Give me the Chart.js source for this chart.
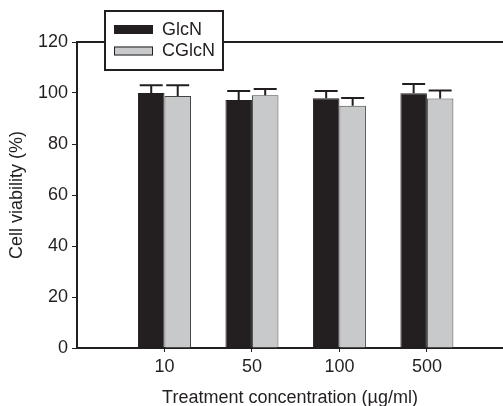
<!DOCTYPE html>
<html lang="en">
<head>
    <meta charset="UTF-8">
    <title>Cell viability</title>
    <script src="https://cdn.jsdelivr.net/npm/chart.js"></script>
    <style>
        body { margin: 0; background: #fff; }
    </style>
</head>
<body>
    <canvas id="viabilityChart" width="503" height="406"></canvas>
    <script>
        // values
        const categories = ['10', '50', '100', '500'];
        const glcn = [100, 97.3, 97.9, 99.9];
        const glcnErr = [3.0, 3.5, 2.9, 3.6];
        const cglcn = [98.8, 99.1, 95.0, 97.8];
        const cglcnErr = [4.2, 2.5, 3.0, 3.2];
        const yTicks = [0, 20, 40, 60, 80, 100, 120];

        const ink = '#231f20';
        const FONT = "'Liberation Sans', Arial, sans-serif";

        function toPoints(values) {
            return values.map((v, i) => ({ x: i + 1, y: v }));
        }

        // error bars (upper half only, like the original)
        const errorBars = {
            id: 'errorBars',
            afterDatasetsDraw(chart) {
                const ctx = chart.ctx;
                const y = chart.scales.y;
                chart.data.datasets.forEach((ds, d) => {
                    const meta = chart.getDatasetMeta(d);
                    meta.data.forEach((bar, i) => {
                        const top = y.getPixelForValue(ds.data[i].y + ds.errors[i]);
                        ctx.save();
                        ctx.strokeStyle = ink;
                        ctx.lineWidth = 2;
                        ctx.beginPath();
                        ctx.moveTo(bar.x, bar.y);
                        ctx.lineTo(bar.x, top);
                        ctx.moveTo(bar.x - 11.5, top);
                        ctx.lineTo(bar.x + 11.5, top);
                        ctx.stroke();
                        ctx.restore();
                    });
                });
            }
        };

        // top frame line and the boxed legend
        const frame = {
            id: 'frame',
            afterDraw(chart) {
                const ctx = chart.ctx;
                const a = chart.chartArea;
                ctx.save();
                ctx.strokeStyle = ink;
                ctx.lineWidth = 2;
                ctx.beginPath();
                ctx.moveTo(a.left - 1, a.top);
                ctx.lineTo(a.right, a.top);
                ctx.stroke();

                // legend box
                ctx.fillStyle = '#fff';
                ctx.fillRect(105, 11, 118, 59);
                ctx.strokeRect(105, 11, 118, 59);
                ctx.font = '18px ' + FONT;
                ctx.textBaseline = 'middle';
                chart.data.datasets.forEach((ds, d) => {
                    const yy = 25 + d * 21.5;
                    ctx.fillStyle = ds.backgroundColor;
                    ctx.fillRect(114, yy, 39, 9);
                    ctx.lineWidth = 1;
                    ctx.strokeStyle = ink;
                    ctx.strokeRect(114.5, yy + 0.5, 38, 8);
                    ctx.fillStyle = ink;
                    ctx.fillText(ds.label, 162, yy + 5);
                });
                ctx.restore();
            }
        };

        const viabilityChart = new Chart(document.getElementById('viabilityChart'), {
            type: 'bar',
            data: {
                datasets: [{
                    label: 'GlcN',
                    data: toPoints(glcn),
                    errors: glcnErr,
                    backgroundColor: ink,
                    borderColor: ink,
                    borderWidth: 1
                }, {
                    label: 'CGlcN',
                    data: toPoints(cglcn),
                    errors: cglcnErr,
                    backgroundColor: '#c8c9cb',
                    borderColor: '#444',
                    borderWidth: 1
                }]
            },
            options: {
                responsive: false,
                animation: false,
                layout: { padding: { top: 42, right: 0, left: 0, bottom: 0 } },
                categoryPercentage: 0.606,
                barPercentage: 1,
                plugins: {
                    legend: { display: false },
                    tooltip: { enabled: false }
                },
                scales: {
                    x: {
                        type: 'linear',
                        min: 0,
                        max: 4.87,
                        offset: false,
                        afterBuildTicks: (s) => { s.ticks = categories.map((c, i) => ({ value: i + 1 })); },
                        afterFit: (s) => { s.height = 58; },
                        border: { color: ink, width: 2 },
                        grid: { offset: false, drawOnChartArea: false, tickLength: 4, color: ink },
                        ticks: {
                            color: ink,
                            font: { family: FONT, size: 18 },
                            padding: 4,
                            callback: (v) => categories[v - 1]
                        },
                        title: {
                            display: true,
                            text: 'Treatment concentration (\u00b5g/ml)',
                            color: ink,
                            font: { family: FONT, size: 18, lineHeight: 0.9 },
                            padding: { top: 0, bottom: 0 }
                        }
                    },
                    y: {
                        min: 0,
                        max: 120,
                        afterBuildTicks: (s) => { s.ticks = yTicks.map(v => ({ value: v })); },
                        afterFit: (s) => { s.width = 77; },
                        border: { color: ink, width: 2 },
                        grid: { drawOnChartArea: false, tickLength: 5, color: ink },
                        ticks: {
                            color: ink,
                            font: { family: FONT, size: 18 },
                            padding: 4
                        },
                        title: {
                            display: true,
                            text: 'Cell viability (%)',
                            color: ink,
                            font: { family: FONT, size: 18 },
                            padding: { top: 6, bottom: 0 }
                        }
                    }
                }
            },
            plugins: [errorBars, frame]
        });
    </script>
</body>
</html>
